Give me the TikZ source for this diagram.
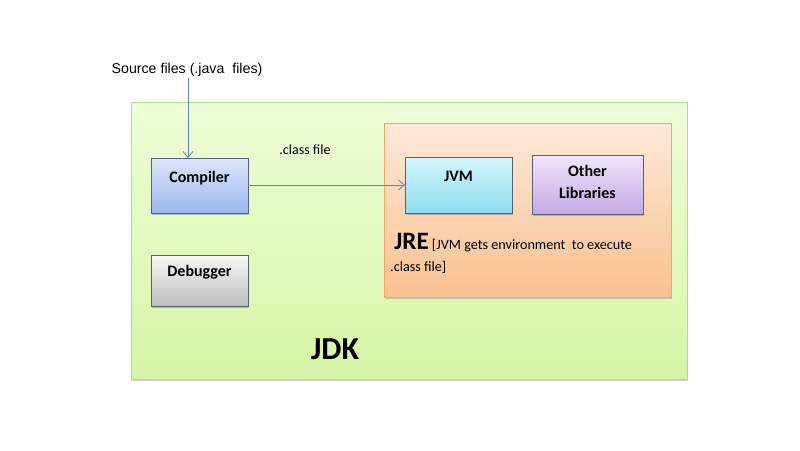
\documentclass[tikz,border=0pt]{standalone}
\usepackage{fontspec}
\setmainfont{Carlito}
\newfontfamily\arialf{Liberation Sans}
\usetikzlibrary{shadows,arrows.meta}
\definecolor{jdkA}{HTML}{EEFDD8}
\definecolor{jdkB}{HTML}{D6F5A6}
\definecolor{jdkD}{HTML}{B5D98A}
\definecolor{jreA}{HTML}{FDE9DA}
\definecolor{jreB}{HTML}{FAC08F}
\definecolor{jreD}{HTML}{EFA867}
\definecolor{cmpA}{HTML}{DCE6FB}
\definecolor{cmpB}{HTML}{9BB8EF}
\definecolor{jvmA}{HTML}{D6F6FD}
\definecolor{jvmB}{HTML}{8EDDF2}
\definecolor{libA}{HTML}{F0E6FB}
\definecolor{libB}{HTML}{C3A9E6}
\definecolor{dbgA}{HTML}{F7F7F7}
\definecolor{dbgB}{HTML}{BDBDBD}
\definecolor{edge}{HTML}{5C6E82}
\definecolor{arr}{HTML}{5B86B0}
\tikzset{
  boxbase/.style={draw=#1, line width=1pt, drop shadow={shadow xshift=1pt,shadow yshift=-1.5pt,opacity=0.35}},
  inner/.style={draw=edge!90!black, line width=1pt, drop shadow={shadow xshift=1pt,shadow yshift=-1.5pt,opacity=0.45}},
  lbl/.style={font=\bfseries\fontsize{16}{19}\selectfont, text=black},
  conn/.style={draw=arr, line width=0.8pt, -{Straight Barb[length=6pt,width=10pt]}},
}
\begin{document}
\begin{tikzpicture}[x=1pt,y=-1pt]
\useasboundingbox[fill=white] (0,0) rectangle (800,450);
% JDK
\path[boxbase=jdkD, top color=jdkA, bottom color=jdkB] (131,102) rectangle (687,379);
\node[lbl, font=\bfseries\fontsize{32}{36}\selectfont] (jdk) at (335,349) {JDK};
% JRE
\path[boxbase=jreD, top color=jreA, bottom color=jreB] (384,123) rectangle (671,297);
% Compiler
\path[inner, top color=cmpA, bottom color=cmpB] (151,158) rectangle (248,213);
\node[lbl] (comp) at (199.5,178) {Compiler};
\coordinate (compN) at (188,158);
\coordinate (compE) at (248,185);
% Debugger
\path[inner, top color=dbgA, bottom color=dbgB] (151,255) rectangle (248,306);
\node[lbl] (dbg) at (199.5,272) {Debugger};
% JVM
\path[inner, top color=jvmA, bottom color=jvmB] (405,157) rectangle (512,213);
\node[lbl] (jvm) at (458.5,176) {JVM};
\coordinate (jvmW) at (405,185);
% Other libraries
\path[inner, top color=libA, bottom color=libB] (532,155) rectangle (643,214);
\node[lbl, align=center, font=\bfseries\fontsize{16}{22}\selectfont] (lib) at (587.5,182) {Other\\Libraries};
% JRE text
\node[anchor=base west, inner sep=0pt, font=\fontsize{14.2}{16}\selectfont] (jre) at (394,249) {{\bfseries\fontsize{25}{28}\selectfont JRE} [JVM gets environment\ \ to execute};
\node[anchor=base west, inner sep=0pt, font=\fontsize{14.2}{16}\selectfont] (jre2) at (390,271) {.class file]};
% source
\node[font=\arialf\fontsize{14.2}{16}\selectfont, inner sep=1pt] (src) at (187,70) {Source files (.java\ \ files)};
\node[font=\fontsize{14}{16}\selectfont] (cls) at (305,150) {.class file};
% connectors
\draw[conn] (src.south -| compN) -- (compN);
\draw[conn] (compE) -- (jvmW);
\end{tikzpicture}
\end{document}
